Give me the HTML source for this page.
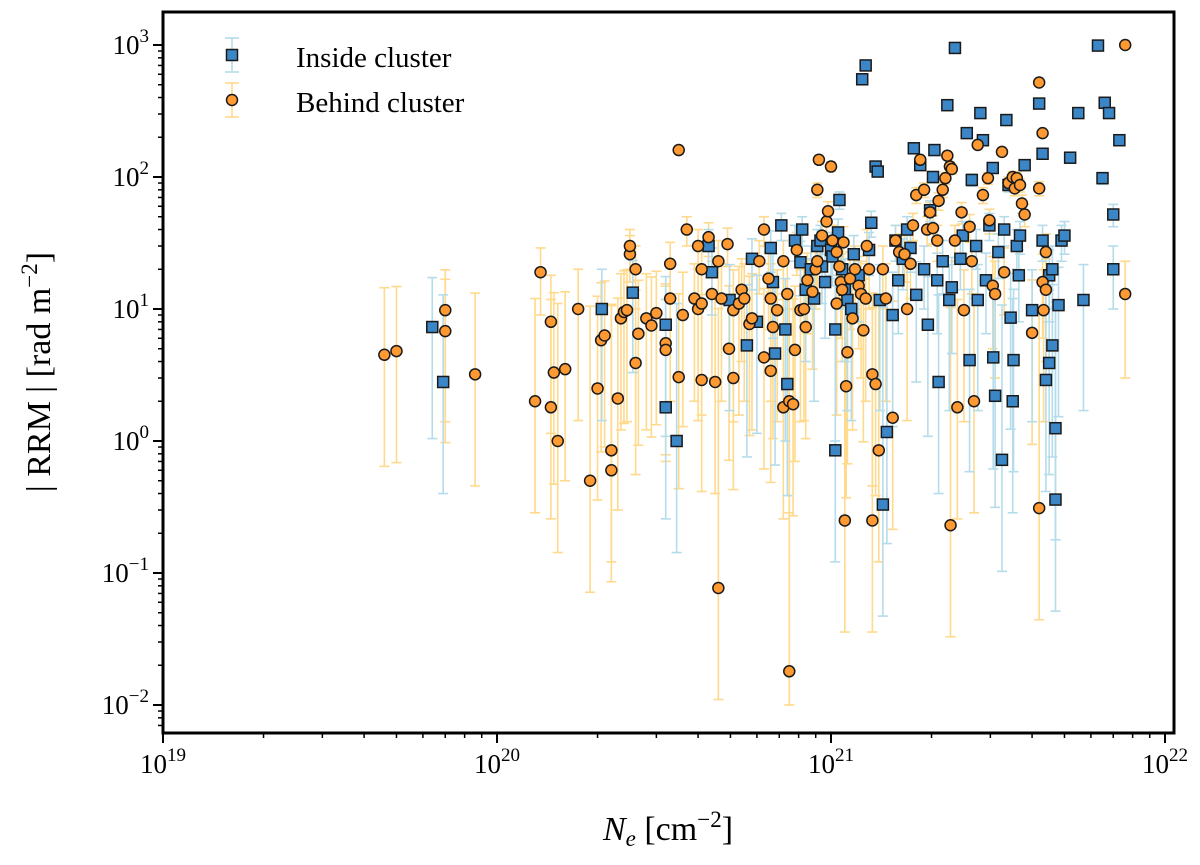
<!DOCTYPE html>
<html><head><meta charset="utf-8"><style>
body{margin:0;background:#fff}
svg text{font-family:"Liberation Serif",serif;fill:#000}
</style></head><body>
<svg id="chart" width="1200" height="860" xmlns="http://www.w3.org/2000/svg">
<g id="bars"></g><g id="marks"></g><g id="axes"></g>
</svg>
<script>
// x values in units of 1e20 cm^-2, y in rad m^-2
const orangeX=[0.46,0.50,0.70,0.70,0.86,1.3,1.35,1.45,1.48,1.45,1.52,1.6,1.75,1.9,2.0,2.05,2.1,2.2,2.2,2.3,2.35,2.4,2.45,2.5,2.5,2.6,2.6,2.65,2.8,2.9,3.0,3.2,3.2,3.3,3.3,3.5,3.5,3.6,3.7,3.9,4.0,4.0,4.1,4.1,4.1,4.3,4.4,4.5,4.6,4.6,4.7,4.9,4.95,5.1,5.1,5.3,5.4,5.5,5.7,5.8,6.1,6.3,6.3,6.5,6.6,6.6,6.7,6.9,7.2,7.2,7.4,7.5,7.5,7.7,7.8,7.9,8.1,8.3,8.4,8.5,8.8,9.0,9.1,9.1,9.2,9.4,9.7,9.8,10,10.1,10.4,10.4,10.6,10.7,10.8,10.9,11.0,11.1,11.2,11.4,11.6,11.8,12.1,12.3,12.5,12.7,12.8,13,13.3,13.3,13.6,13.9,14.3,14.6,15.3,15.6,16,16.6,16.9,17.3,17.6,18,18.5,19,19.4,19.8,20.2,20.8,21,21.6,22,22.3,22.7,22.8,23,23.5,23.9,24.6,25,26,26.4,26.8,27.5,28.5,29.5,29.8,30.5,31,32.5,33,34,35,35.5,36,36.8,37.3,38,40,42,43,43.3,42,42,43,44,44,76,76];
const orangeY=[4.5,4.8,9.8,6.8,3.2,2.0,19,8,3.3,1.8,1.0,3.5,10,0.5,2.5,5.8,6.3,0.85,0.6,2.1,8.5,9.5,9.8,26,30,20,3.9,6.5,8.5,7.5,9.3,5.5,4.9,22,12,160,3.05,9,40,12,10,30,20,11,2.9,35,13,2.8,23,0.077,12,31,5,9.8,3.0,11,14,12,7.7,8.5,23,4.3,40,17,12,3.4,7.3,9.8,1.8,23,13,2.0,0.018,1.9,4.9,28,9.8,10,7.3,16.5,13.5,20,23,80,135,36,46,55,120,33,27,11,21,16,14,32,0.25,2.6,4.7,17,8.5,20,15,13,6.9,12,30,20,3.2,0.25,2.7,0.85,20,12,1.5,33,27,26,10,22,43,73,135,80,40,54,41,33,66,80,98,145,120,0.23,115,33,1.8,54,9.8,42,23,2.0,175,73,98,47,15,13,155,19,90,100,82,98,87,63,52,6.6,82,16,9.8,0.31,520,215,27,14,1000,13];
const blueX=[0.64,0.69,2.06,2.55,3.2,3.2,3.45,4.3,4.4,4.97,5.6,5.8,6.0,6.6,6.7,6.8,7.1,7.3,7.4,7.8,8.1,8.2,8.4,8.7,8.9,9.1,9.3,9.4,9.6,10,10.1,10.3,10.3,10.5,10.6,10.8,11,11.2,11.5,11.7,12.1,12.4,12.7,13,13.2,13.6,13.8,14.0,14.3,14.7,15.3,15.6,15.9,16.4,16.9,17.3,17.7,18,18.5,19,19.5,19.8,20.2,20.4,20.8,21,21.6,22.3,22.6,23,23.5,24.4,24.8,25.5,26,26.4,27.2,27.5,28,28.5,29.1,29.8,30.5,30.6,31,31.7,32.5,33,33.5,34,34.5,35,35.2,36,36.5,36.8,38,40,42,43,43,44,45,45,46,46,47,47,48,49,50,52,55,57,65,66,68,70,70,73,63];
const blueY=[7.3,2.8,10,13.3,7.6,1.8,1.0,30,19,11.7,5.3,24,8,29,16,4.6,43,7,2.7,33,22.6,40,14,20,12,30,33,21,16,28,25,7,0.85,38,67,20,14,11.7,10,26,18,550,700,28,45,120,110,11.7,0.33,1.17,9,33,16.5,24,40,29,165,12.8,123,20,7.6,56,100,160,16.5,2.8,23,350,11.7,14.6,950,24,36,215,4.1,95,30,11.7,305,190,16.5,43,117,4.3,2.2,27,0.72,40,270,87,8.6,2.0,4.1,30,18,36,123,9.8,360,150,33,2.9,3.9,18,5.3,20,0.36,1.25,10.7,33,36,140,305,11.7,98,365,305,20,52,190,990];
const xTickLabels=["19","20","21","22"];
const yTickLabels=["-2","-1","0","1","2","3"];
const SIGMA=10;
const NS="http://www.w3.org/2000/svg";
const X0=163,X1=1174,Y0=12,Y1=733;
const xs=v=>497+334*Math.log10(v); // v in 1e20 units
const xsL=e=>497+334*(e-20);
const ys=v=>441-132*Math.log10(v);
function mk(t,a,p){const e=document.createElementNS(NS,t);for(const k in a)e.setAttribute(k,a[k]);document.getElementById(p).appendChild(e);return e;}
function errbar(x,y,col){
  const up=y+SIGMA,lo=Math.max(y-SIGMA,y/7,0.01);
  const a=ys(up),b=ys(lo);
  const g=mk('g',{stroke:col,'stroke-width':1.6},'bars');
  
  
  g.innerHTML=`<line x1="${x}" x2="${x}" y1="${a}" y2="${b}"/><line x1="${x-5}" x2="${x+5}" y1="${a}" y2="${a}"/><line x1="${x-5}" x2="${x+5}" y1="${b}" y2="${b}"/>`;
}
orangeX.forEach((v,i)=>errbar(xs(v),orangeY[i],'#ffd98c'));
blueX.forEach((v,i)=>errbar(xs(v),blueY[i],'#b5dcea'));
blueX.forEach((v,i)=>{const x=xs(v),y=ys(blueY[i]);
  const r=mk('rect',{x:x-5.5,y:y-5.5,width:11,height:11,fill:'#3a86c6',stroke:'#1a1a1a','stroke-width':1.5},'marks');
  
  });
orangeX.forEach((v,i)=>{const x=xs(v),y=ys(orangeY[i]);
  const c=mk('circle',{cx:x,cy:y,r:5.5,fill:'#ff9a33',stroke:'#1a1a1a','stroke-width':1.5},'marks');
  
  });
// axes
let ax='';
ax+=`<rect x="${X0}" y="${Y0}" width="${X1-X0}" height="${Y1-Y0}" fill="none" stroke="#000" stroke-width="3"/>`;
xTickLabels.forEach(l=>{const e=+l,x=xsL(e);
  ax+=`<line x1="${x}" x2="${x}" y1="${Y1}" y2="${Y1+10}" stroke="#000" stroke-width="2"/>`;
  ax+=`<text x="${x}" y="${Y1+40}" font-size="27" text-anchor="middle">10<tspan font-size="19" dy="-12">${e}</tspan></text>`;
  if(e<22)for(let m=2;m<10;m++){const mx=x+334*Math.log10(m);ax+=`<line x1="${mx}" x2="${mx}" y1="${Y1}" y2="${Y1+5}" stroke="#000" stroke-width="1.5"/>`;}
});
yTickLabels.forEach(l=>{const e=+l,y=441-132*e;
  ax+=`<line x1="${X0-10}" x2="${X0}" y1="${y}" y2="${y}" stroke="#000" stroke-width="2"/>`;
  ax+=`<text x="${X0-14}" y="${y+9}" font-size="27" text-anchor="end">10<tspan font-size="19" dy="-12">${e.toString().replace('-','\u2212')}</tspan></text>`;
  for(let m=2;m<10;m++){const my=y-132*Math.log10(m);if(my>Y0)ax+=`<line x1="${X0-5}" x2="${X0}" y1="${my}" y2="${my}" stroke="#000" stroke-width="1.5"/>`;}
  if(e===-2)for(let m=2;m<10;m++){const yy=y+132-132*Math.log10(m);if(yy<Y1)ax+=`<line x1="${X0-5}" x2="${X0}" y1="${yy}" y2="${yy}" stroke="#000" stroke-width="1.5"/>`;}
});
ax+=`<text x="668" y="840" font-size="34" text-anchor="middle"><tspan font-style="italic">N</tspan><tspan font-style="italic" font-size="23" dy="6">e</tspan><tspan dy="-6"> [cm</tspan><tspan font-size="23" dy="-13">−2</tspan><tspan dy="13">]</tspan></text>`;
ax+=`<text transform="translate(50,372) rotate(-90)" font-size="34" text-anchor="middle">| RRM | [rad m<tspan font-size="23" dy="-13">−2</tspan><tspan dy="13">]</tspan></text>`;
ax+=`<g>
<g><g stroke="#b5dcea" stroke-width="1.6"><line x1="232" x2="232" y1="38" y2="72"/><line x1="225" x2="239" y1="38" y2="38"/><line x1="225" x2="239" y1="72" y2="72"/></g><rect x="226.5" y="49.5" width="11" height="11" fill="#3a86c6" stroke="#1a1a1a" stroke-width="1.5"/><text x="296" y="67" font-size="29">Inside cluster</text></g>
<g><g stroke="#ffd98c" stroke-width="1.6"><line x1="232" x2="232" y1="83" y2="117"/><line x1="225" x2="239" y1="83" y2="83"/><line x1="225" x2="239" y1="117" y2="117"/></g><circle cx="232" cy="100" r="5.5" fill="#ff9a33" stroke="#1a1a1a" stroke-width="1.5"/><text x="296" y="112" font-size="29">Behind cluster</text></g></g>`;
document.getElementById('axes').innerHTML=ax;
</script>
</body></html>
